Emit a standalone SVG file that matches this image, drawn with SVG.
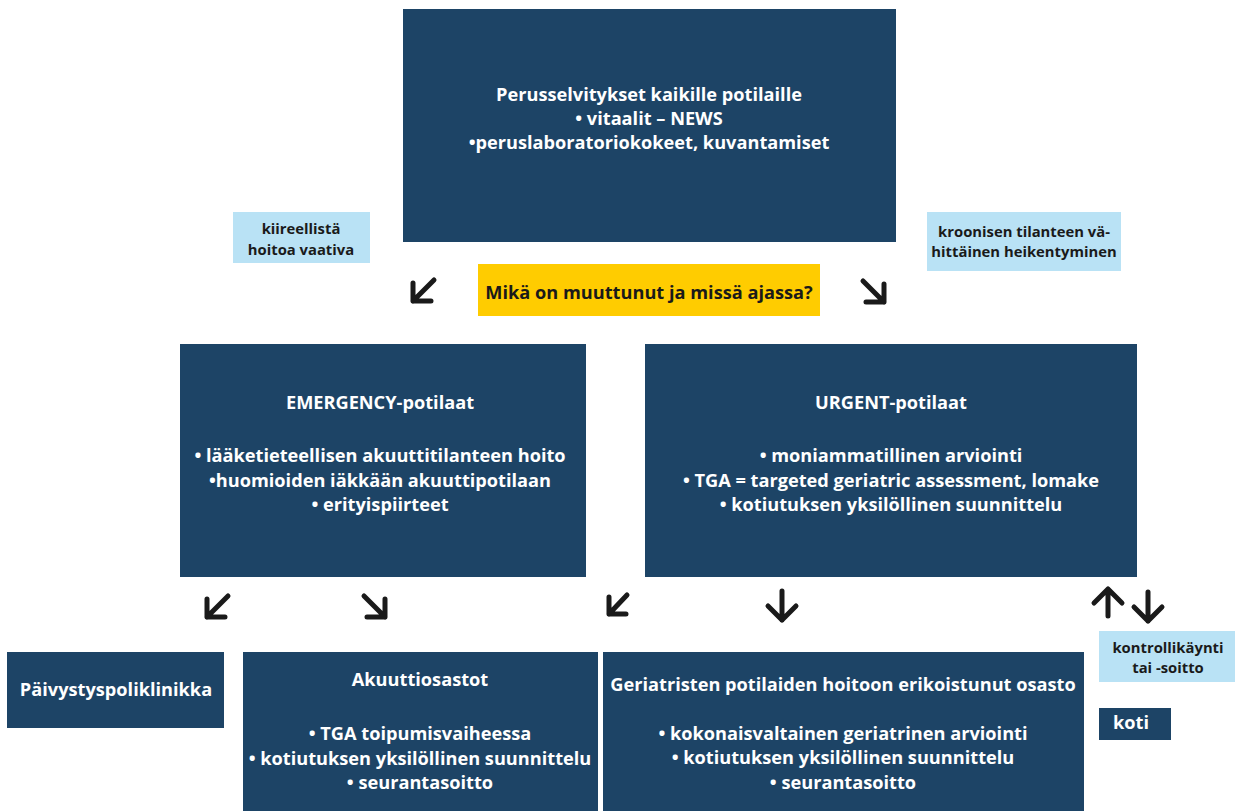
<svg xmlns="http://www.w3.org/2000/svg" width="1235" height="811" viewBox="0 0 1235 811">
<defs>
<style>
.dark{fill:#1d4466}
.light{fill:#b9e2f5}
.yel{fill:#ffcc00}
text{font-family:"Open Sans","Liberation Sans",sans-serif;font-weight:700;text-anchor:middle}
.w{fill:#ffffff;font-size:18.2px}
.k{fill:#1a1a1a;font-size:18.2px}
.s{fill:#1a1a1a;font-size:14.8px}
.arr{fill:none;stroke:#1a1a1a;stroke-width:5;stroke-linecap:round;stroke-linejoin:round}
</style>
</defs>
<rect width="1235" height="811" fill="#ffffff"/>

<g id="top">
<rect class="dark" x="403" y="9" width="493" height="233"/>
<text class="w" x="649" y="101">Perusselvitykset kaikille potilaille</text>
<text class="w" x="649" y="125">• vitaalit – NEWS</text>
<text class="w" x="649" y="149">•peruslaboratoriokokeet, kuvantamiset</text>
</g>

<g id="kiireellista">
<rect class="light" x="233" y="212" width="137" height="51"/>
<text class="s" x="301" y="234">kiireellistä</text>
<text class="s" x="301" y="255">hoitoa vaativa</text>
</g>

<g id="kroonisen">
<rect class="light" x="927" y="212" width="194" height="59"/>
<text class="s" x="1024" y="237">kroonisen tilanteen vä-</text>
<text class="s" x="1024" y="257">hittäinen heikentyminen</text>
</g>

<g id="question">
<rect class="yel" x="478" y="264" width="342" height="52"/>
<text class="k" x="649" y="299">Mikä on muuttunut ja missä ajassa?</text>
</g>

<g id="emergency">
<rect class="dark" x="180" y="344" width="406" height="233"/>
<text class="w" x="380" y="409">EMERGENCY-potilaat</text>
<text class="w" x="380" y="462">• lääketieteellisen akuuttitilanteen hoito</text>
<text class="w" x="380" y="487">•huomioiden iäkkään akuuttipotilaan</text>
<text class="w" x="380" y="511">• erityispiirteet</text>
</g>

<g id="urgent">
<rect class="dark" x="645" y="344" width="492" height="233"/>
<text class="w" x="891" y="409">URGENT-potilaat</text>
<text class="w" x="891" y="462">• moniammatillinen arviointi</text>
<text class="w" x="891" y="487">• TGA = targeted geriatric assessment, lomake</text>
<text class="w" x="891" y="511">• kotiutuksen yksilöllinen suunnittelu</text>
</g>

<g id="paivystys">
<rect class="dark" x="7" y="652" width="217" height="76"/>
<text class="w" x="116" y="696">Päivystyspoliklinikka</text>
</g>

<g id="akuutti">
<rect class="dark" x="243" y="652" width="355" height="165"/>
<text class="w" x="420" y="686">Akuuttiosastot</text>
<text class="w" x="420" y="740">• TGA toipumisvaiheessa</text>
<text class="w" x="420" y="765">• kotiutuksen yksilöllinen suunnittelu</text>
<text class="w" x="420" y="789">• seurantasoitto</text>
</g>

<g id="geriatrinen">
<rect class="dark" x="603" y="652" width="481" height="165"/>
<text class="w" x="843" y="691">Geriatristen potilaiden hoitoon erikoistunut osasto</text>
<text class="w" x="843" y="740">• kokonaisvaltainen geriatrinen arviointi</text>
<text class="w" x="843" y="764">• kotiutuksen yksilöllinen suunnittelu</text>
<text class="w" x="843" y="789">• seurantasoitto</text>
</g>

<g id="kontrolli">
<rect class="light" x="1099" y="631" width="137" height="51"/>
<text class="s" x="1168" y="653">kontrollikäynti</text>
<text class="s" x="1168" y="673">tai -soitto</text>
</g>

<g id="koti">
<rect class="dark" x="1099" y="708" width="72" height="32"/>
<text class="w" x="1131" y="729">koti</text>
</g>

<g id="connectors">
<path class="arr" d="M434 280 L413 301 M413 283 L413 301 L431 301"/>
<path class="arr" d="M228 596 L207 617 M207 599 L207 617 L225 617"/>
<path class="arr" d="M627 595 L609 614 M609 597 L609 614 L626 614"/>
<path class="arr" d="M863 281 L884 302 M884 284 L884 302 L866 302"/>
<path class="arr" d="M364 596 L385 617 M385 599 L385 617 L367 617"/>
<path class="arr" d="M782 591 L782 620 M768 606 L782 620 L796 606"/>
<path class="arr" d="M1148 592 L1148 621 M1134 607 L1148 621 L1162 607"/>
<path class="arr" d="M1108 616 L1108 589 M1094 603 L1108 589 L1122 603"/>
</g>
</svg>
